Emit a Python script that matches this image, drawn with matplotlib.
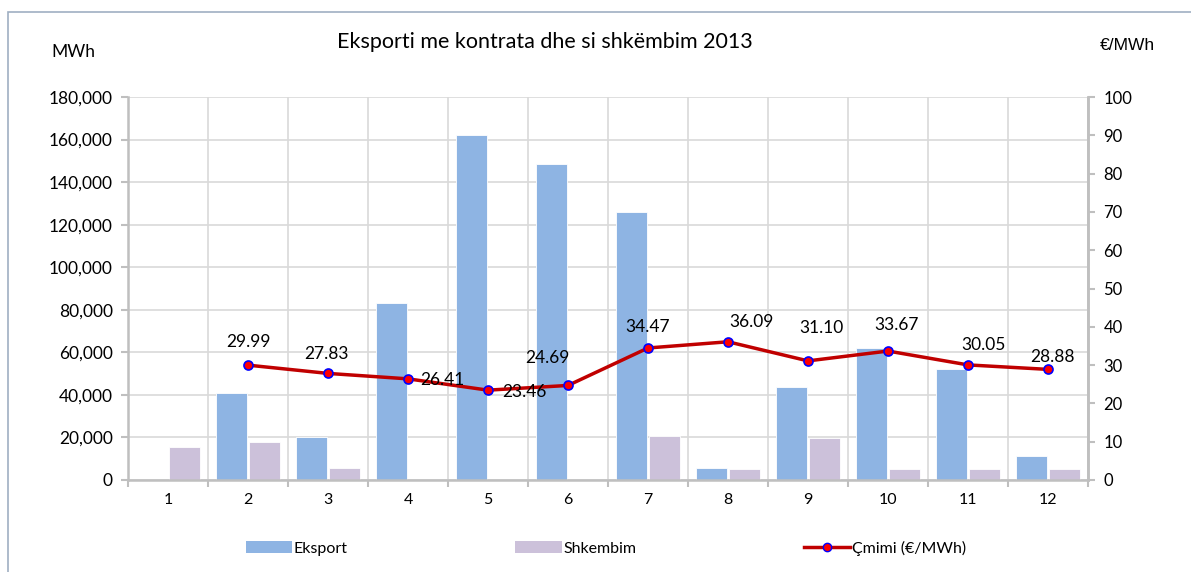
import matplotlib
matplotlib.use("Agg")
import matplotlib.pyplot as plt
from matplotlib.patches import Patch, Rectangle
from matplotlib.lines import Line2D
from matplotlib.ticker import FuncFormatter
import numpy as np

plt.rcParams['font.family'] = ['Lato', 'DejaVu Sans']

# data
months = [1, 2, 3, 4, 5, 6, 7, 8, 9, 10, 11, 12]
eksport = [0, 41000, 20000, 83000, 162000, 148500, 126000, 5800, 43500, 62000, 52000, 11300]
shkembim = [15300, 17800, 5800, 0, 0, 0, 20700, 5200, 19800, 5200, 5200, 5200]
price_months = [2, 3, 4, 5, 6, 7, 8, 9, 10, 11, 12]
cmimi = [29.99, 27.83, 26.41, 23.46, 24.69, 34.47, 36.09, 31.10, 33.67, 30.05, 28.88]

# label offsets in points (style only)
lbl_off = [(0, 17), (-1, 14), (25, -1), (26, -1), (-15, 20), (0, 15),
           (17, 14), (10, 24), (6, 19), (11, 14), (3, 9)]

grid_c = '#D9D9D9'
axis_c = '#BFBFBF'

fig = plt.figure(figsize=(11.91, 5.72), dpi=100)
fig.patches.append(Rectangle((8 / 1191, -0.01), 1.2, 1 - 12 / 572 + 0.01,
                             transform=fig.transFigure, fill=False,
                             edgecolor='#9FAFC2', linewidth=1.2))

ax = fig.add_axes([128 / 1191, 1 - 480 / 572, 960 / 1191, 383 / 572])
x = np.array(months)
w = 0.39
ax.bar(x - 0.205, eksport, w, color='#8EB4E3', edgecolor='white', linewidth=0.6, zorder=2)
ax.bar(x + 0.205, shkembim, w, color='#CCC1DA', edgecolor='white', linewidth=0.6, zorder=2)

ax.set_xlim(0.5, 12.5)
ax.set_ylim(0, 180000)
ax.set_yticks(np.arange(0, 180001, 20000))
ax.yaxis.set_major_formatter(FuncFormatter(lambda v, p: f'{int(v):,}'))
ax.set_xticks(months)
ax.set_xticks(np.arange(0.5, 12.6, 1), minor=True)
ax.tick_params(axis='x', which='major', length=0, pad=9, labelsize=11.5)
ax.tick_params(axis='x', which='minor', length=5, color=axis_c, width=1.5)
ax.tick_params(axis='y', length=5, color=axis_c, width=1.5, labelsize=12.5, pad=6)
ax.grid(False)
ax.yaxis.grid(True, color=grid_c, linewidth=1.2, zorder=0)
ax.xaxis.grid(True, which='minor', color=grid_c, linewidth=1.2, zorder=0)
ax.set_axisbelow(True)
ax.spines['top'].set_visible(False)
for s in ['left', 'bottom', 'right']:
    ax.spines[s].set_color(axis_c)
    ax.spines[s].set_linewidth(1.8)

ax2 = ax.twinx()
ax2.set_ylim(0, 100)
ax2.set_yticks(np.arange(0, 101, 10))
ax2.tick_params(axis='y', length=5, color=axis_c, width=1.5, labelsize=12, pad=6)
for s in ['top', 'left', 'bottom']:
    ax2.spines[s].set_visible(False)
ax2.spines['right'].set_color(axis_c)
ax2.spines['right'].set_linewidth(1.8)
ax2.plot(price_months, cmimi, color='#C00000', linewidth=2.5, marker='o',
         markersize=6.5, markerfacecolor='red', markeredgecolor='blue',
         markeredgewidth=1.2, zorder=5)
for m, v, (dx, dy) in zip(price_months, cmimi, lbl_off):
    ax2.annotate(f'{v:.2f}', (m, v), xytext=(dx, dy), textcoords='offset points',
                 ha='center', va='center', fontsize=12.5, color='black', zorder=6)

fig.text(545 / 1191, 1 - 42 / 572, 'Eksporti me kontrata dhe si shkëmbim 2013',
         ha='center', va='center', fontsize=15.5)
fig.text(73 / 1191, 1 - 52 / 572, 'MWh', ha='center', va='center', fontsize=12.5)
fig.text(1127 / 1191, 1 - 46 / 572, '€/MWh', ha='center', va='center', fontsize=12.5,
         family=['Liberation Sans', 'DejaVu Sans'])

handles = [Patch(facecolor='#8EB4E3'), Patch(facecolor='#CCC1DA'),
           Line2D([0], [0], color='#C00000', linewidth=2.5, marker='o', markersize=6,
                  markerfacecolor='red', markeredgecolor='blue')]
fig.legend(handles, ['Eksport', 'Shkembim', 'Çmimi (€/MWh)'], ncol=3,
           loc='center', bbox_to_anchor=(606 / 1191, 1 - 548 / 572), frameon=False,
           fontsize=11.5, handlelength=2.9, handleheight=0.8, handletextpad=0.1,
           columnspacing=10.5)

fig.savefig('out.png', dpi=100)
